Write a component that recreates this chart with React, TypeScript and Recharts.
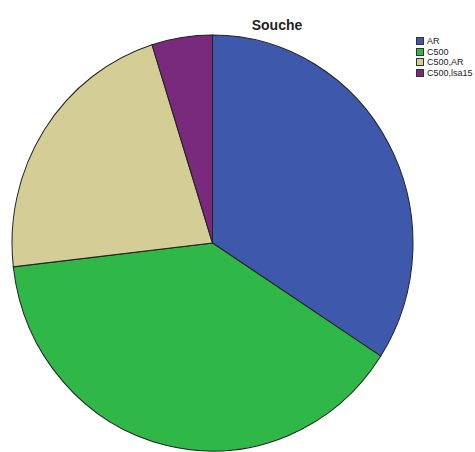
import { PieChart, Pie, Cell } from 'recharts'

const labels = ['AR', 'C500', 'C500,AR', 'C500,lsa15']
const counts = [14, 16, 9, 2]
const colors = ['#3e58ac', '#2fb847', '#d4ce96', '#7a2a7c']

const data = labels.map((name, i) => ({ name, value: counts[i] }))

// the original pie is a bit taller than wide
const CY = 243
const SCALE_Y = 208 / 200.5

function LegendBox() {
  return (
    <div
      style={{
        position: 'absolute',
        left: 416,
        top: 36,
        fontFamily: 'Arial, "Liberation Sans", sans-serif',
        fontSize: 9,
        color: '#222',
      }}
    >
      {labels.map((l, i) => (
        <div key={l} style={{ display: 'flex', alignItems: 'center', height: 10.5 }}>
          <span
            style={{
              width: 8,
              height: 8,
              background: colors[i],
              border: '1px solid #333',
              boxSizing: 'border-box',
              marginRight: 3,
            }}
          />
          {l}
        </div>
      ))}
    </div>
  )
}

export default function App() {
  return (
    <div style={{ position: 'absolute', left: 0, top: 0, width: 475, height: 452, background: '#fff', overflow: 'hidden' }}>
      <div
        style={{
          position: 'absolute',
          left: 0,
          top: 0,
          transform: `scaleY(${SCALE_Y})`,
          transformOrigin: `0 ${CY}px`,
        }}
      >
        <PieChart width={475} height={452} margin={{ top: 0, right: 0, bottom: 0, left: 0 }}>
          <Pie
            data={data}
            dataKey="value"
            nameKey="name"
            cx={212.5}
            cy={CY}
            outerRadius={200.5}
            startAngle={90}
            endAngle={-270}
            stroke="#222"
            strokeWidth={1}
            isAnimationActive={false}
          >
            {data.map((d, i) => (
              <Cell key={d.name} fill={colors[i]} />
            ))}
          </Pie>
        </PieChart>
      </div>
      <div
        style={{
          position: 'absolute',
          top: 17,
          left: 0,
          width: 554,
          textAlign: 'center',
          fontFamily: 'Arial, "Liberation Sans", sans-serif',
          fontWeight: 'bold',
          fontSize: 14,
          color: '#222',
        }}
      >
        Souche
      </div>
      <LegendBox />
    </div>
  )
}
